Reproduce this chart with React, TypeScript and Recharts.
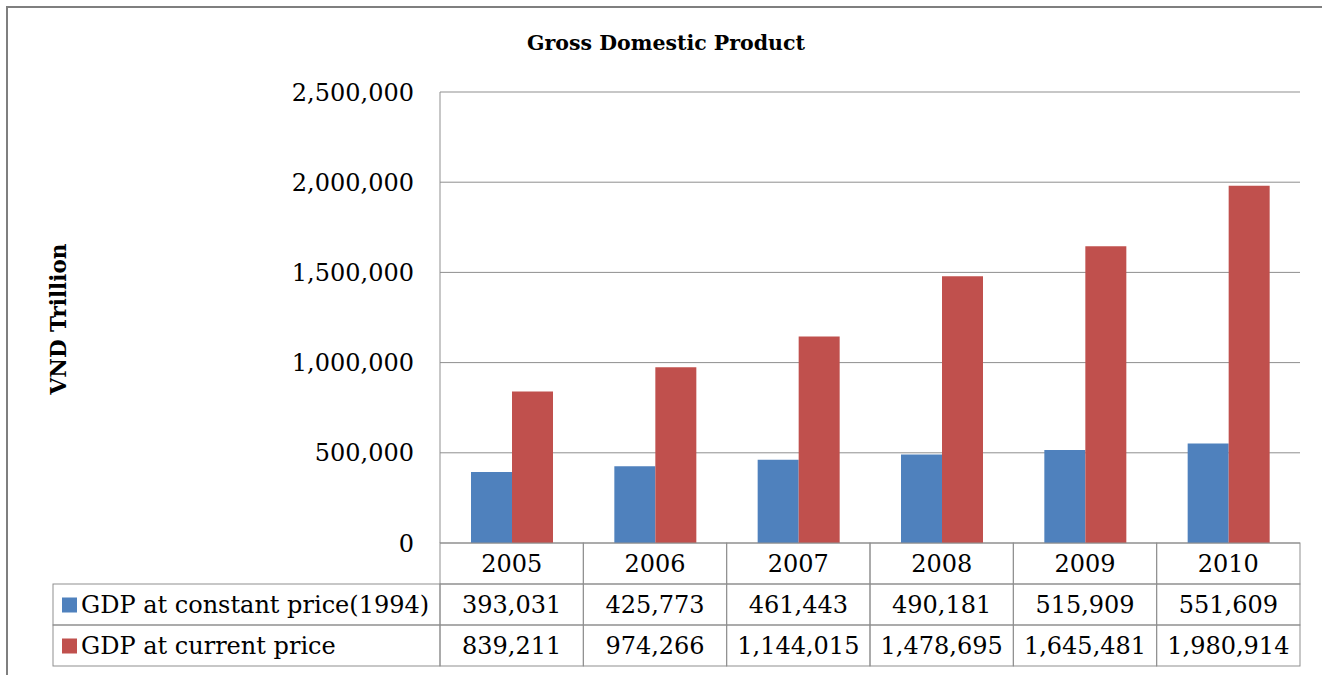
import { BarChart, Bar, XAxis, YAxis, CartesianGrid } from "recharts";

const years = ["2005", "2006", "2007", "2008", "2009", "2010"];
const constantPrice = [393031, 425773, 461443, 490181, 515909, 551609];
const currentPrice = [839211, 974266, 1144015, 1478695, 1645481, 1980914];
const yTicks = [0, 500000, 1000000, 1500000, 2000000, 2500000];

const seriesNames = ["GDP at constant price(1994)", "GDP at current price"];
const colors = ["#4F81BD", "#C0504D"];

const data = years.map((y, i) => ({
  year: y,
  constant: constantPrice[i],
  current: currentPrice[i],
}));

const W = 1322;
const H = 675;
const PLOT_LEFT = 440;
const PLOT_RIGHT = 1300;
const PLOT_TOP = 92;
const PLOT_BOTTOM = 543;
const ROW_H = 41;
const LEGEND_LEFT = 53;
const BAND = (PLOT_RIGHT - PLOT_LEFT) / years.length;
const FONT = "'DejaVu Serif', serif";
const FS = 24;
const LINE = "#8f8f8f";

const fmt = (v: number) => v.toLocaleString("en-US");

function TableTick(props: any) {
  const { x, y, payload, index } = props;
  const left = x - BAND / 2;
  const vals = [payload.value, fmt(constantPrice[index]), fmt(currentPrice[index])];
  return (
    <g>
      {vals.map((v, r) => (
        <g key={r}>
          <rect
            x={left}
            y={y + r * ROW_H}
            width={BAND}
            height={ROW_H}
            fill="none"
            stroke={LINE}
            strokeWidth={1}
          />
          <text
            x={x}
            y={y + r * ROW_H + ROW_H / 2 + 8.5}
            textAnchor="middle"
            fontFamily={FONT}
            fontSize={FS}
            fill="#000"
          >
            {v}
          </text>
        </g>
      ))}
      {index === 0 &&
        seriesNames.map((name, r) => (
          <g key={name}>
            <rect
              x={LEGEND_LEFT}
              y={y + (r + 1) * ROW_H}
              width={left - LEGEND_LEFT}
              height={ROW_H}
              fill="none"
              stroke={LINE}
              strokeWidth={1}
            />
            <rect
              x={LEGEND_LEFT + 9}
              y={y + (r + 1) * ROW_H + ROW_H / 2 - 7}
              width={15}
              height={15}
              fill={colors[r]}
            />
            <text
              x={LEGEND_LEFT + 28}
              y={y + (r + 1) * ROW_H + ROW_H / 2 + 8.5}
              fontFamily={FONT}
              fontSize={FS}
              fill="#000"
            >
              {name}
            </text>
          </g>
        ))}
    </g>
  );
}

export default function App() {
  return (
    <div style={{ position: "absolute", left: 0, top: 0, width: W, height: H, background: "#fff" }}>
      <div
        style={{
          position: "absolute",
          left: 6,
          top: 6,
          width: W,
          height: H,
          borderLeft: "2px solid #7f7f7f",
          borderTop: "2px solid #7f7f7f",
        }}
      />
      <div
        style={{
          position: "absolute",
          left: 0,
          width: 1332,
          top: 29,
          textAlign: "center",
          fontFamily: FONT,
          fontWeight: "bold",
          fontSize: 20.5,
          lineHeight: "28px",
        }}
      >
        Gross Domestic Product
      </div>
      <div
        style={{
          position: "absolute",
          left: 58,
          top: 319,
          transform: "translate(-50%, -50%) rotate(-90deg)",
          fontFamily: FONT,
          fontWeight: "bold",
          fontSize: 21.5,
          whiteSpace: "nowrap",
        }}
      >
        VND Trillion
      </div>
      <div style={{ position: "absolute", left: 0, top: 0 }}>
        <BarChart
          width={W}
          height={H}
          data={data}
          margin={{ top: PLOT_TOP, left: PLOT_LEFT - 150, right: W - PLOT_RIGHT, bottom: 0 }}
          barGap={0}
          barSize={41}
        >
          <CartesianGrid vertical={false} stroke={LINE} strokeWidth={1} />
          <XAxis
            dataKey="year"
            height={H - PLOT_BOTTOM}
            axisLine={false}
            tickLine={false}
            tickSize={0}
            tickMargin={0}
            interval={0}
            tick={<TableTick />}
          />
          <YAxis
            width={150}
            domain={[0, 2500000]}
            ticks={yTicks}
            tickFormatter={fmt}
            axisLine={{ stroke: LINE }}
            tickLine={false}
            tickSize={0}
            tickMargin={26}
            tick={{ fontFamily: FONT, fontSize: FS, fill: "#000" }}
          />
          <Bar dataKey="constant" fill={colors[0]} isAnimationActive={false} />
          <Bar dataKey="current" fill={colors[1]} isAnimationActive={false} />
        </BarChart>
      </div>
    </div>
  );
}
